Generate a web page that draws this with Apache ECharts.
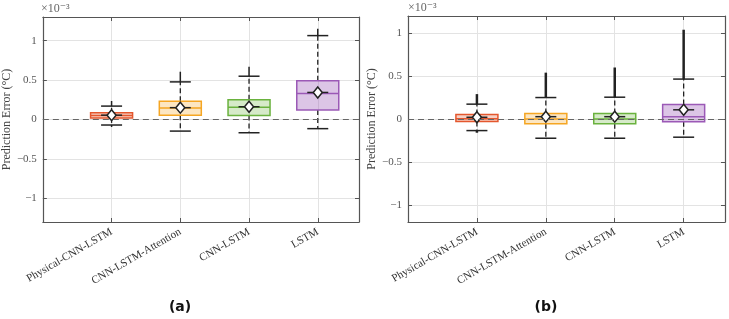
<!DOCTYPE html>
<html lang="en">

<head>
    <meta charset="UTF-8">
    <title>Prediction Error</title>
    <script src="https://cdn.jsdelivr.net/npm/echarts@6.0.0/dist/echarts.min.js"></script>
    <style>
        html, body { margin: 0; padding: 0; background: #fff; }
    </style>
</head>

<body>
    <div id="chart" style="width: 729px; height: 319px;"></div>

    <script>
        // values in units of 1e-3 °C
        const categories = ['Physical-CNN-LSTM', 'CNN-LSTM-Attention', 'CNN-LSTM', 'LSTM'];
        const yTicks = [-1, -0.5, 0, 0.5, 1];
        const boxColors = ['#E4572E', '#F5A623', '#6AB23E', '#9B59B6'];
        const boxFills = ['rgba(228,87,46,0.28)', 'rgba(245,166,35,0.28)', 'rgba(106,178,62,0.28)', 'rgba(155,89,182,0.35)'];

        // panel (a)
        const aQ1 = [0.02, 0.055, 0.052, 0.12];
        const aMedian = [0.05, 0.146, 0.155, 0.33];
        const aQ3 = [0.085, 0.232, 0.249, 0.49];
        const aLowWhisker = [-0.07, -0.147, -0.168, -0.116];
        const aHighWhisker = [0.17, 0.477, 0.549, 1.064];
        const aMean = [0.055, 0.15, 0.162, 0.343];
        const aOutLow = [-0.095, -0.147, -0.168, -0.116];
        const aOutHigh = [0.235, 0.606, 0.67, 1.15];

        // panel (b)
        const bQ1 = [-0.028, -0.054, -0.054, -0.031];
        const bMedian = [0.003, 0.0, 0.0, 0.027];
        const bQ3 = [0.053, 0.065, 0.065, 0.168];
        const bLowWhisker = [-0.135, -0.224, -0.224, -0.212];
        const bHighWhisker = [0.173, 0.25, 0.254, 0.465];
        const bMean = [0.02, 0.027, 0.027, 0.107];
        const bOutLow = [-0.16, -0.224, -0.224, -0.212];
        const bOutHigh = [0.29, 0.54, 0.6, 1.04];

        const serif = '"Liberation Serif", "DejaVu Serif", serif';

        function buildRows(q1, med, q3, lw, hw, mean, olo, ohi) {
            return categories.map((c, i) => [i + 1, q1[i], med[i], q3[i], lw[i], hw[i], mean[i], olo[i], ohi[i]]);
        }

        function makeRender(outWidth) {
            return function (params, api) {
                const i = params.dataIndex;
                const x = api.value(0);
                const cx = api.coord([x, 0])[0];
                const y = k => api.coord([x, api.value(k)])[1];
                const yq1 = y(1), ymed = y(2), yq3 = y(3), ylw = y(4), yhw = y(5), ymean = y(6), yolo = y(7), yohi = y(8);
                const bw = 21, cw = 10.5;
                const black = '#222';
                return {
                    type: 'group',
                    children: [
                        { type: 'line', shape: { x1: cx, y1: yq3, x2: cx, y2: yhw }, style: { stroke: black, lineWidth: 1.3, lineDash: [5, 3] } },
                        { type: 'line', shape: { x1: cx, y1: yq1, x2: cx, y2: ylw }, style: { stroke: black, lineWidth: 1.3, lineDash: [5, 3] } },
                        { type: 'line', shape: { x1: cx, y1: yhw, x2: cx, y2: yohi }, style: { stroke: black, lineWidth: outWidth } },
                        { type: 'line', shape: { x1: cx, y1: ylw, x2: cx, y2: yolo }, style: { stroke: black, lineWidth: outWidth } },
                        { type: 'line', shape: { x1: cx - cw, y1: yhw, x2: cx + cw, y2: yhw }, style: { stroke: black, lineWidth: 1.5 } },
                        { type: 'line', shape: { x1: cx - cw, y1: ylw, x2: cx + cw, y2: ylw }, style: { stroke: black, lineWidth: 1.5 } },
                        { type: 'rect', shape: { x: cx - bw, y: yq3, width: 2 * bw, height: yq1 - yq3 }, style: { fill: boxFills[i], stroke: boxColors[i], lineWidth: 1.5 } },
                        { type: 'line', shape: { x1: cx - bw, y1: ymed, x2: cx + bw, y2: ymed }, style: { stroke: boxColors[i], lineWidth: 1.5 } },
                        { type: 'line', shape: { x1: cx - cw, y1: ymean, x2: cx + cw, y2: ymean }, style: { stroke: black, lineWidth: 1.5 } },
                        { type: 'polygon', shape: { points: [[cx, ymean - 5.5], [cx + 4.5, ymean], [cx, ymean + 5.5], [cx - 4.5, ymean]] }, style: { fill: '#fff', stroke: black, lineWidth: 1.5 } }
                    ]
                };
            };
        }

        function xAxes(g) {
            return [{
                type: 'value', gridIndex: g, min: 0, max: 4.6, interval: 1,
                axisLine: { show: true, onZero: false, lineStyle: { color: '#555', width: 1.2 } },
                axisTick: { inside: true, length: 4, lineStyle: { color: '#555' } },
                axisLabel: {
                    rotate: 30, margin: 9, fontFamily: serif, fontSize: 11, color: '#333',
                    formatter: v => categories[v - 1] || ''
                },
                splitLine: { show: true, lineStyle: { color: '#e3e3e3', width: 1 } }
            }, {
                type: 'value', gridIndex: g, position: 'top', min: 0, max: 4.6, interval: 1,
                axisLine: { show: true, onZero: false, lineStyle: { color: '#555', width: 1.2 } },
                axisTick: { inside: true, length: 4, lineStyle: { color: '#555' } },
                axisLabel: { show: false }, splitLine: { show: false }
            }];
        }

        function yAxes(g, lim) {
            return [{
                type: 'value', gridIndex: g, min: -lim, max: lim,
                name: 'Prediction Error (°C)', nameLocation: 'middle', nameGap: 27,
                nameTextStyle: { fontFamily: serif, fontSize: 12, color: '#444' },
                axisLine: { show: true, onZero: false, lineStyle: { color: '#555', width: 1.2 } },
                axisTick: { inside: true, length: 4, customValues: yTicks, lineStyle: { color: '#555' } },
                axisLabel: {
                    margin: 6, fontFamily: serif, fontSize: 11, color: '#555', customValues: yTicks,
                    formatter: v => String(v).replace('-', '\u2212')
                },
                splitLine: { show: true, lineStyle: { color: '#e3e3e3', width: 1 } }
            }, {
                type: 'value', gridIndex: g, position: 'right', min: -lim, max: lim,
                axisLine: { show: true, onZero: false, lineStyle: { color: '#555', width: 1.2 } },
                axisTick: { inside: true, length: 4, customValues: yTicks, lineStyle: { color: '#555' } },
                axisLabel: { show: false }, splitLine: { show: false }
            }];
        }

        function boxSeries(g, rows, outWidth) {
            return {
                type: 'custom', xAxisIndex: g * 2, yAxisIndex: g * 2,
                renderItem: makeRender(outWidth),
                encode: { x: 0, y: [1, 2, 3, 4, 5, 6, 7, 8] },
                data: rows,
                z: 3,
                markLine: {
                    silent: true, symbol: 'none', label: { show: false }, z: 5,
                    lineStyle: { color: '#666', type: [6, 4], width: 1.2 },
                    data: [{ yAxis: 0 }]
                }
            };
        }

        const chart = echarts.init(document.getElementById('chart'));

        chart.setOption({
            animation: false,
            grid: [
                { left: 41, top: 17, width: 318, height: 205 },
                { left: 408, top: 16, width: 317, height: 206 }
            ],
            xAxis: [...xAxes(0), ...xAxes(1)],
            yAxis: [...yAxes(0, 1.3), ...yAxes(1, 1.2)],
            series: [
                boxSeries(0, buildRows(aQ1, aMedian, aQ3, aLowWhisker, aHighWhisker, aMean, aOutLow, aOutHigh), 1.5),
                boxSeries(1, buildRows(bQ1, bMedian, bQ3, bLowWhisker, bHighWhisker, bMean, bOutLow, bOutHigh), 2.5)
            ],
            graphic: [
                { type: 'text', x: 41, y: 3, style: { text: '×10⁻³', font: '12px ' + serif, fill: '#666' } },
                { type: 'text', x: 408, y: 2, style: { text: '×10⁻³', font: '12px ' + serif, fill: '#666' } },
                { type: 'text', x: 180, y: 307, style: { text: '(a)', font: 'bold 14px "DejaVu Sans", sans-serif', fill: '#111', align: 'center', verticalAlign: 'middle' } },
                { type: 'text', x: 546, y: 307, style: { text: '(b)', font: 'bold 14px "DejaVu Sans", sans-serif', fill: '#111', align: 'center', verticalAlign: 'middle' } }
            ]
        });
    </script>
</body>

</html>
